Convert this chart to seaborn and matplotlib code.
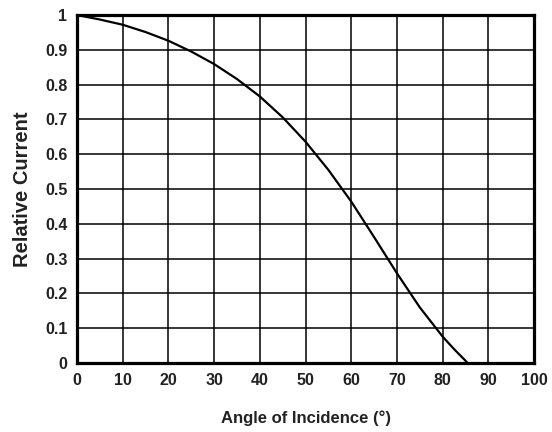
import matplotlib
matplotlib.use("Agg")
import matplotlib.pyplot as plt
import seaborn as sns
import pandas as pd

# Data
angle = [0, 5, 10, 15, 20, 25, 30, 35, 40, 45, 50, 55, 60, 65, 70, 75, 80, 82.5, 85.5]
current = [1.0, 0.987, 0.972, 0.951, 0.926, 0.895, 0.859, 0.816, 0.766, 0.706, 0.636, 0.555,
           0.464, 0.362, 0.258, 0.160, 0.076, 0.040, 0.0]
x_ticks = [0, 10, 20, 30, 40, 50, 60, 70, 80, 90, 100]
y_ticks = [0, 0.1, 0.2, 0.3, 0.4, 0.5, 0.6, 0.7, 0.8, 0.9, 1.0]
y_tick_labels = ["0", "0.1", "0.2", "0.3", "0.4", "0.5", "0.6", "0.7", "0.8", "0.9", "1"]

sns.set_theme(style="white")
plt.rcParams["font.family"] = ["Liberation Sans", "DejaVu Sans"]

df = pd.DataFrame({"Angle": angle, "Current": current})

fig = plt.figure(figsize=(5.52, 4.32), dpi=100)
ax = fig.add_axes([0.1395, 0.1597, 0.8279, 0.8056])

sns.lineplot(data=df, x="Angle", y="Current", ax=ax, color="black", linewidth=1.6, zorder=5)

ax.set_xlim(0, 100)
ax.set_ylim(0, 1)
ax.set_xticks(x_ticks)
ax.set_xticklabels([str(t) for t in x_ticks], fontsize=11.5, fontweight="bold", color="#222222")
ax.set_yticks(y_ticks)
ax.set_yticklabels(y_tick_labels, fontsize=11.5, fontweight="bold", color="#222222")
ax.tick_params(axis="both", length=0, pad=7)

ax.grid(True, color="black", linewidth=1.1)
ax.set_axisbelow(True)
for s in ax.spines.values():
    s.set_visible(True)
    s.set_color("black")
    s.set_linewidth(2.3)
    s.set_zorder(6)

ax.set_xlabel("Angle of Incidence (°)", fontsize=12, fontweight="bold", color="#222222", labelpad=16)
ax.set_ylabel("Relative Current", fontsize=14.5, fontweight="bold", color="#222222", labelpad=9)

fig.savefig("out.png", dpi=100, facecolor="white")
